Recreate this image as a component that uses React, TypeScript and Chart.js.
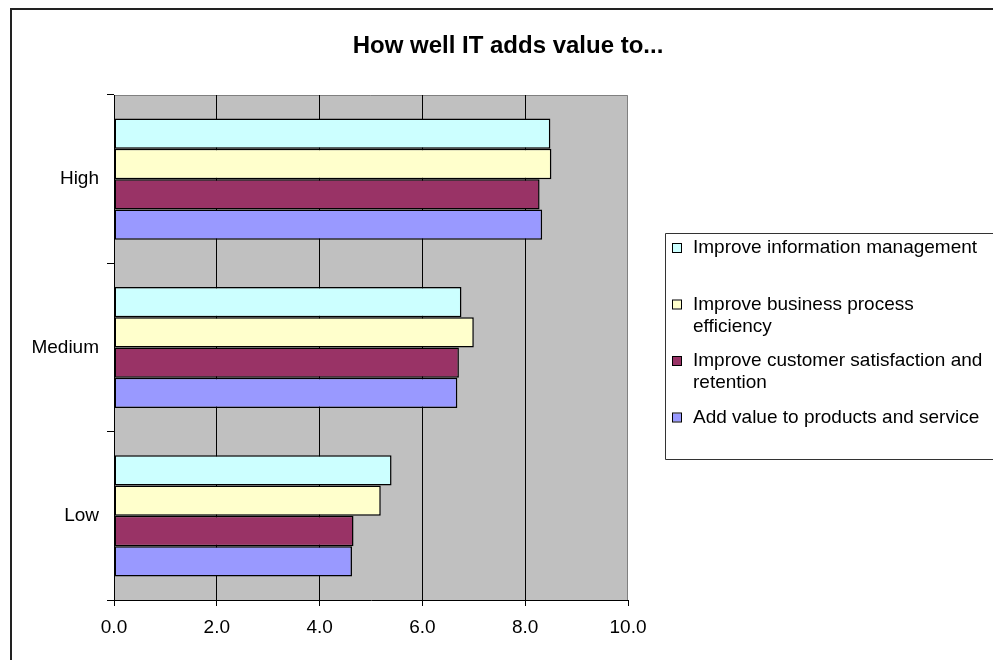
import React, { useEffect, useRef } from 'react';
import { Chart, registerables } from 'chart.js';

Chart.register(...registerables);

const chartTitle = 'How well IT adds value to...';
const categories = ['High', 'Medium', 'Low'];
const seriesNames = [
  'Improve information management',
  'Improve business process efficiency',
  'Improve customer satisfaction and retention',
  'Add value to products and service',
];
const infoManagement = [8.49, 6.76, 5.4];
const processEfficiency = [8.51, 7.0, 5.19];
const customerSatisfaction = [8.28, 6.71, 4.66];
const addValue = [8.33, 6.68, 4.63];
const seriesColors = ['#CCFFFF', '#FFFFCC', '#993366', '#9999FF'];
const xMin = 0;
const xMax = 10;
const xStep = 2;

const FONT = "Arial, 'Liberation Sans', sans-serif";

function wrapText(ctx: CanvasRenderingContext2D, text: string, maxW: number): string[] {
  const words = text.split(' ');
  const lines: string[] = [];
  let cur = '';
  for (const w of words) {
    const test = cur ? cur + ' ' + w : w;
    if (ctx.measureText(test).width > maxW && cur) {
      lines.push(cur);
      cur = w;
    } else {
      cur = test;
    }
  }
  if (cur) lines.push(cur);
  return lines;
}

const decorPlugin = {
  id: 'decor',
  beforeDraw(chart: any) {
    const { ctx, chartArea } = chart;
    const W = chart.width;
    const H = chart.height;
    ctx.save();
    ctx.fillStyle = '#ffffff';
    ctx.fillRect(0, 0, W, H);
    // plot area
    ctx.fillStyle = '#C0C0C0';
    ctx.fillRect(chartArea.left, chartArea.top, chartArea.right - chartArea.left, chartArea.bottom - chartArea.top);
    ctx.strokeStyle = '#808080';
    ctx.lineWidth = 1;
    ctx.beginPath();
    ctx.moveTo(chartArea.left, chartArea.top + 0.5);
    ctx.lineTo(chartArea.right - 0.5, chartArea.top + 0.5);
    ctx.lineTo(chartArea.right - 0.5, chartArea.bottom);
    ctx.stroke();
    // outer frame
    ctx.strokeStyle = '#222';
    ctx.lineWidth = 2;
    ctx.beginPath();
    ctx.moveTo(W + 5, 9);
    ctx.lineTo(11, 9);
    ctx.lineTo(11, H + 5);
    ctx.stroke();
    ctx.restore();
  },
  afterDraw(chart: any) {
    const { ctx } = chart;
    const W = chart.width;
    ctx.save();
    // title
    ctx.fillStyle = '#000';
    ctx.font = `bold 24px ${FONT}`;
    ctx.textAlign = 'center';
    ctx.textBaseline = 'alphabetic';
    ctx.fillText(chartTitle, 508, 53);

    // legend
    const lx = 665;
    const ly = 233;
    const lb = 459;
    ctx.strokeStyle = '#333';
    ctx.lineWidth = 1;
    ctx.beginPath();
    ctx.moveTo(W + 2, ly + 0.5);
    ctx.lineTo(lx + 0.5, ly + 0.5);
    ctx.lineTo(lx + 0.5, lb + 0.5);
    ctx.lineTo(W + 2, lb + 0.5);
    ctx.stroke();

    const ds = chart.data.datasets;
    const slot = (lb - ly) / ds.length;
    ctx.font = `19px ${FONT}`;
    ctx.textAlign = 'left';
    ctx.textBaseline = 'middle';
    ds.forEach((d: any, i: number) => {
      const y0 = ly + 15 + i * slot;
      ctx.fillStyle = d.backgroundColor;
      ctx.fillRect(673, y0 - 4, 8, 8);
      ctx.strokeStyle = '#000';
      ctx.lineWidth = 1;
      ctx.strokeRect(672.5, y0 - 4.5, 9, 9);
      ctx.fillStyle = '#000';
      const lines = wrapText(ctx, d.label, 296);
      lines.forEach((ln, j) => ctx.fillText(ln, 693, y0 + j * 22));
    });
    ctx.restore();
  },
};

export default function App() {
  const ref = useRef<HTMLCanvasElement | null>(null);
  useEffect(() => {
    if (!ref.current) return;
    const values = [infoManagement, processEfficiency, customerSatisfaction, addValue];
    const chart = new Chart(ref.current, {
      type: 'bar',
      data: {
        labels: categories,
        datasets: seriesNames.map((name, i) => ({
          label: name,
          data: values[i],
          backgroundColor: seriesColors[i],
          borderColor: '#000',
          borderWidth: 1.5,
          borderSkipped: false,
          categoryPercentage: 0.72,
          barPercentage: 1,
        })),
      },
      options: {
        indexAxis: 'y',
        animation: false,
        responsive: false,
        maintainAspectRatio: false,
        layout: { padding: { top: 95, right: 365, left: 0, bottom: 0 } },
        plugins: {
          legend: { display: false },
          title: { display: false },
          tooltip: { enabled: false },
        },
        scales: {
          y: {
            type: 'category',
            afterFit: (scale: any) => {
              scale.width = 114;
            },
            grid: {
              offset: true,
              drawOnChartArea: false,
              drawTicks: true,
              tickLength: 7,
              tickColor: '#000',
              color: '#000',
            },
            border: { color: '#000', width: 1 },
            ticks: { color: '#000', padding: 8, font: { family: FONT, size: 19 } },
          },
          x: {
            type: 'linear',
            min: xMin,
            max: xMax,
            afterFit: (scale: any) => {
              scale.height = 60;
            },
            grid: {
              color: (c: any) =>
                c.tick && c.tick.value > xMin && c.tick.value < xMax ? '#000' : 'rgba(0,0,0,0)',
              tickColor: '#000',
              tickLength: 6,
              lineWidth: 1,
            },
            border: { color: '#000', width: 1 },
            ticks: {
              stepSize: xStep,
              color: '#000',
              padding: 10,
              font: { family: FONT, size: 19 },
              callback: (v: any) => Number(v).toFixed(1),
            },
          },
        },
      },
      plugins: [decorPlugin],
    });
    return () => chart.destroy();
  }, []);
  return (
    <div style={{ position: 'fixed', left: 0, top: 0, width: 993, height: 660 }}>
      <canvas ref={ref} width={993} height={660} style={{ display: 'block' }} />
    </div>
  );
}
